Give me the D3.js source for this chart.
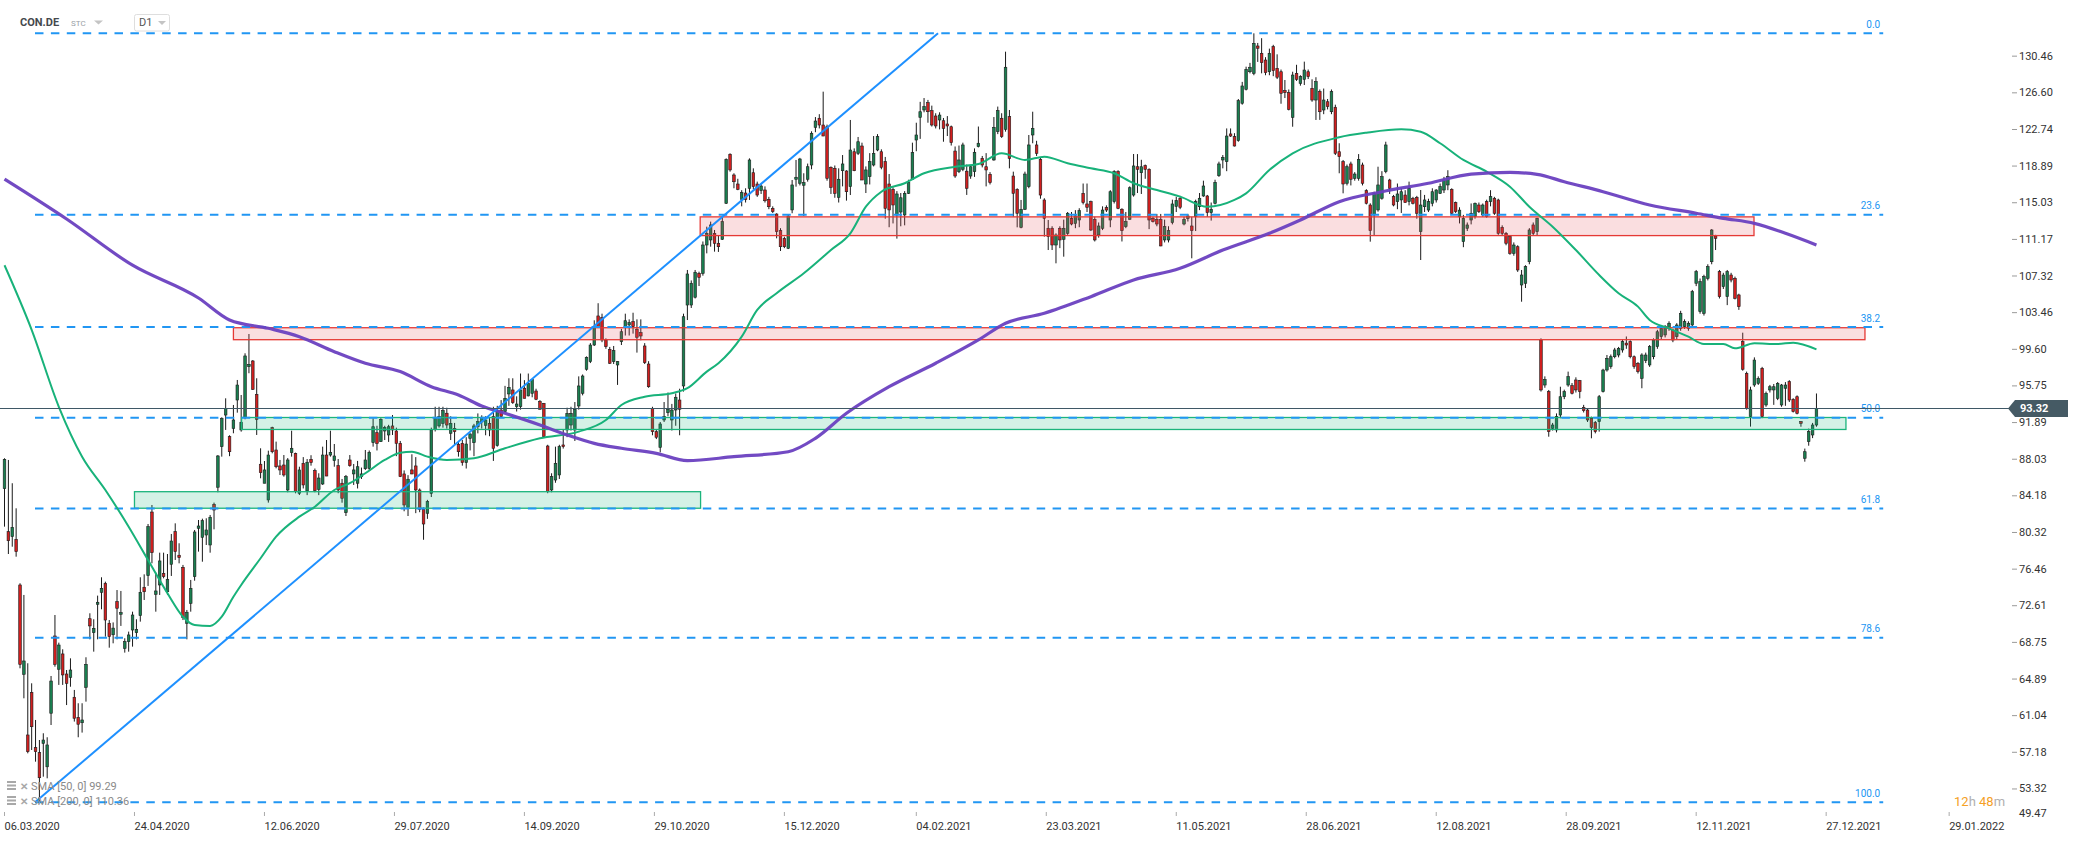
<!DOCTYPE html>
<html><head><meta charset="utf-8">
<script src="https://cdn.jsdelivr.net/npm/d3@7"></script>
<style>
html,body{margin:0;padding:0;background:#fff;overflow:hidden;}
svg{display:block;font-family:Roboto,"Noto Sans",Arial,sans-serif;}
</style></head><body>
<svg id="chart" width="2079" height="844"></svg>
<script>
// ---------- DATA ----------
// daily candles [open, high, low, close], one per trading day from 06.03.2020
const ohlc = [
[84.88,88.08,80.88,87.97],[80.35,87.9,78.0,79.4],[79.83,85.45,78.77,80.81],[79.55,82.81,77.72,78.25],[74.74,74.92,65.97,66.39],
[65.34,73.69,62.81,66.74],[58.95,66.5,57.02,57.19],[63.44,64.39,57.37,59.82],[57.62,60.53,56.14,57.19],[57.09,58.42,51.76,54.45],
[58.07,59.13,54.56,58.42],[55.6,58.71,54.39,57.9],[61.24,65.16,60.0,64.63],[69.37,71.58,66.14,66.39],[65.87,68.67,64.22,68.42],
[67.48,67.97,64.22,65.27],[65.37,65.79,62.1,64.39],[65.02,67.02,64.03,65.79],[62.92,63.69,60.36,60.71],[60.81,62.29,58.71,60.08],
[60.24,62.29,59.2,60.53],[63.97,67.13,62.46,66.39],[71.19,71.76,69.02,70.43],[69.72,71.13,67.72,70.18],[72.71,73.62,69.02,72.92],
[73.97,75.55,72.18,74.39],[74.92,75.09,69.3,71.05],[70.71,71.05,68.14,69.3],[69.5,70.8,68.6,70.2],[72.99,74.21,69.02,72.29],
[71.66,74.11,70.43,71.83],[68.07,69.13,67.62,68.77],[68.77,69.83,67.72,69.48],[70.0,71.93,68.25,71.58],[69.72,71.13,69.02,70.07],
[71.51,75.55,70.88,73.97],[74.5,75.86,73.16,74.03],[75.72,81.16,74.64,80.88],[82.42,83.16,77.02,78.14],[73.76,76.04,71.93,74.11],
[74.74,78.14,73.69,77.27],[75.97,78.14,75.44,75.62],[74.03,78.0,73.69,75.34],[76.92,80.11,75.69,79.37],[80.35,81.23,77.37,78.25],
[77.87,79.13,77.02,77.62],[76.6,76.85,71.05,71.34],[70.71,72.11,69.02,71.87],[72.81,75.27,71.93,74.39],[75.62,80.53,75.19,80.32],
[80.71,81.58,78.25,80.95],[79.76,81.72,77.19,81.51],[80.0,81.76,78.95,80.53],[78.95,82.11,78.14,81.87],[83.23,83.41,80.6,82.63],
[85.03,88.42,84.5,88.32],[89.3,92.39,88.25,92.29],[92.63,94.39,91.06,93.34],[90.35,90.5,88.3,88.77],[91.23,93.69,90.71,92.11],
[94.21,96.32,92.88,95.79],[91.06,94.74,90.88,91.87],[92.35,99.13,92.18,98.85],[97.72,101.16,97.03,97.97],[98.32,98.42,95.27,95.34],
[94.81,96.5,90.53,92.18],[87.45,89.13,85.97,86.56],[85.45,87.79,85.45,86.85],[83.69,88.88,83.41,88.42],[91.3,91.4,88.6,88.77],
[88.95,89.83,87.02,87.19],[87.27,87.9,86.32,86.85],[87.37,88.42,86.14,86.32],[84.74,88.1,84.5,87.9],[88.67,90.98,88.25,89.13],
[88.6,88.67,84.39,84.56],[84.39,87.19,84.21,86.85],[87.55,88.2,84.9,85.27],[84.64,88.0,84.2,87.66],[87.97,88.4,87.3,87.62],
[86.78,87.0,84.5,84.67],[84.8,86.5,84.2,86.0],[85.37,89.3,85.27,88.42],[88.42,90.0,86.2,86.21],[88.42,90.98,88.25,88.7],
[87.83,89.58,87.19,88.32],[87.3,88.0,84.4,84.74],[85.45,85.9,83.4,83.87],[82.35,86.32,82.0,86.14],[87.9,88.42,87.19,87.3],
[86.43,87.48,85.27,86.85],[85.45,87.8,84.9,87.19],[86.14,87.1,85.9,86.43],[86.98,88.95,86.85,87.9],[87.02,88.9,86.8,88.71],
[89.72,92.29,89.3,91.4],[90.77,91.5,88.9,89.65],[89.83,92.3,89.8,92.18],[90.95,91.5,90.0,91.3],[90.53,91.6,89.8,91.4],
[91.48,92.63,90.53,91.06],[90.95,91.3,88.3,89.65],[89.65,89.9,86.1,86.14],[86.43,86.8,82.5,83.16],[82.92,86.3,82.0,85.87],
[86.85,88.5,86.4,86.43],[87.27,88.2,82.3,84.74],[84.74,84.9,82.4,82.71],[82.71,82.9,79.5,81.16],[82.29,83.7,81.7,83.51],
[84.39,91.3,84.0,91.06],[91.13,93.5,90.9,92.29],[91.48,93.5,91.3,92.46],[91.76,93.5,91.3,93.09],[92.82,93.4,91.2,91.58],
[90.71,92.5,90.0,91.76],[91.23,91.8,89.5,90.88],[89.55,89.83,88.25,88.77],[89.65,90.0,87.3,87.62],[87.62,90.3,87.0,89.58],
[90.18,90.7,88.9,90.64],[89.72,91.7,88.3,91.48],[91.4,92.8,90.7,91.93],[91.9,92.6,91.2,92.3],[91.55,92.5,90.5,92.11],
[91.76,92.3,90.4,91.06],[92.46,93.5,87.8,89.13],[89.41,93.6,89.3,93.09],[93.16,94.2,92.4,92.46],[92.99,95.7,92.9,94.39],
[94.85,96.5,93.6,95.55],[95.27,96.5,93.8,93.93],[93.51,94.6,93.0,93.79],[93.51,97.0,93.2,95.27],[95.45,96.3,94.6,94.39],
[94.64,97.0,94.6,95.97],[94.92,96.4,94.5,96.39],[95.16,95.4,94.2,94.29],[94.04,94.2,93.2,93.24],[93.86,93.9,90.35,90.35],
[89.37,89.5,84.4,84.56],[84.74,86.5,84.5,86.14],[85.79,89.3,85.5,87.55],[86.32,89.5,85.9,89.3],[89.48,91.06,89.1,89.3],
[91.06,93.4,90.3,92.81],[91.58,93.5,91.0,92.81],[91.06,94.0,89.9,93.24],[93.58,96.7,93.2,95.69],[94.92,96.9,94.7,96.74],
[97.45,98.8,97.3,98.71],[98.25,100.2,98.1,100.0],[100.0,102.6,99.9,101.93],[103.06,104.4,101.8,101.93],[102.92,103.3,100.3,100.53],
[100.53,100.7,99.6,99.83],[99.55,99.8,98.0,98.08],[98.25,99.9,98.0,99.41],[97.9,98.3,95.8,98.25],[100.35,101.7,100.0,101.4],
[101.93,103.3,101.0,102.56],[102.11,102.7,101.0,102.35],[102.46,103.4,101.2,101.93],[101.66,102.7,99.2,100.82],[101.3,102.7,100.5,100.95],
[99.9,100.2,98.0,98.14],[98.0,98.3,95.5,95.61],[93.34,93.5,90.5,90.88],[90.88,91.1,90.1,90.29],[89.23,91.9,88.7,91.69],
[92.11,94.0,91.9,92.46],[92.88,95.0,92.5,93.24],[92.11,93.8,91.0,93.16],[93.16,94.9,91.5,94.5],[94.21,95.4,90.5,93.24],
[95.69,103.3,95.1,102.98],[104.21,107.9,102.63,107.48],[104.21,106.8,103.9,106.5],[105.03,107.9,104.9,107.66],[107.55,107.72,106.21,107.13],
[107.55,110.9,107.3,110.53],[110.53,112.46,109.65,111.76],[111.06,112.99,110.35,112.64],[111.76,112.11,109.83,110.71],[110.71,111.5,109.8,110.35],
[111.13,113.51,111.06,112.99],[114.92,119.65,114.85,119.55],[120.08,120.18,118.25,118.43],[117.9,118.08,116.5,117.19],[116.95,117.5,116.3,116.39],
[115.34,116.3,114.6,116.04],[116.0,116.5,115.0,115.3],[116.5,119.65,115.27,119.48],[118.14,118.6,116.4,116.67],[116.95,117.2,115.6,115.79],
[116.25,117.0,115.9,116.74],[116.32,116.7,115.0,115.19],[115.34,115.6,114.3,114.56],[114.39,114.6,113.9,114.04],[113.79,113.87,111.23,111.93],
[112.04,112.3,109.9,110.35],[111.23,111.4,110.2,110.35],[110.18,113.7,110.1,113.58],[114.22,117.37,113.87,116.85],[117.45,119.48,116.67,117.66],
[117.03,119.7,116.8,119.58],[116.82,118.08,113.58,117.09],[117.45,119.1,117.2,118.77],[118.95,122.5,118.5,122.29],[122.92,124.0,122.4,123.58],
[123.87,124.3,122.8,123.16],[123.16,126.67,122.0,122.0],[122.98,123.2,117.3,117.55],[118.71,118.8,115.9,116.6],[118.6,118.9,115.5,115.97],
[115.55,118.6,115.0,117.45],[118.35,120.0,116.7,119.06],[118.32,118.4,115.2,116.14],[116.67,123.69,115.79,120.53],[120.35,120.7,118.3,118.35],
[120.18,121.9,120.0,121.4],[120.95,121.3,117.4,117.37],[116.95,118.8,116.0,118.43],[117.72,120.2,116.9,119.3],[118.95,122.0,118.8,120.18],
[120.53,122.2,120.4,121.93],[120.35,120.6,118.5,118.71],[119.3,119.8,113.3,114.39],[116.95,118.0,112.4,114.22],[116.39,116.6,112.8,114.74],
[113.69,116.2,111.2,115.9],[114.0,116.0,112.5,115.5],[113.69,116.2,112.6,115.97],[115.97,117.4,115.9,117.09],[117.45,121.3,117.4,120.25],
[121.58,123.4,120.4,122.11],[123.97,125.6,121.7,124.56],[124.74,126.0,124.5,125.09],[125.51,125.8,123.4,124.56],[124.67,125.2,123.0,123.16],
[124.11,124.4,122.8,123.06],[123.69,124.5,122.7,124.21],[123.61,123.9,121.4,122.81],[123.27,124.1,122.0,123.06],[122.98,123.1,121.0,121.3],
[120.42,120.9,117.6,117.79],[118.25,121.0,118.1,119.48],[118.5,121.3,118.3,121.06],[118.3,119.0,115.8,116.5],[117.79,118.9,117.5,118.77],
[118.25,120.7,117.7,120.29],[120.88,123.0,120.8,121.24],[119.65,119.9,118.7,118.95],[118.77,120.2,116.7,118.43],[117.97,118.2,116.9,117.09],
[119.48,124.0,119.4,122.92],[122.46,125.1,122.2,124.67],[123.87,124.4,121.8,121.93],[122.71,130.88,122.46,129.24],[124.04,124.74,118.6,119.65],
[117.79,118.25,113.51,115.97],[116.39,116.5,112.39,113.87],[112.39,115.27,112.29,114.29],[114.29,118.25,114.21,118.0],[116.67,122.11,116.5,121.06],
[122.11,124.56,121.24,122.81],[121.06,121.5,119.9,120.18],[119.55,119.7,115.4,115.79],[115.27,115.45,111.41,113.34],[112.29,113.16,110.0,111.41],
[112.29,112.5,110.0,110.53],[110.53,111.76,108.6,111.58],[112.29,112.5,110.2,111.06],[111.13,113.2,109.3,112.29],[111.76,114.0,111.6,113.87],
[113.34,114.0,112.6,112.74],[112.8,114.2,112.3,113.6],[113.16,114.4,112.4,114.14],[115.97,117.0,114.8,114.99],[114.85,117.0,114.0,114.5],
[115.09,115.2,112.0,112.11],[113.23,113.5,110.9,111.06],[111.58,112.9,111.3,112.53],[112.29,114.6,112.1,114.21],[114.46,114.7,114.0,114.21],
[113.16,116.3,112.4,116.14],[115.09,118.4,114.9,118.25],[118.25,118.4,114.3,114.39],[114.29,114.4,110.9,112.04],[112.46,114.0,112.3,112.99],
[113.23,116.7,113.2,116.56],[115.79,120.11,115.62,118.85],[118.77,120.1,116.0,118.5],[118.14,119.5,115.9,118.77],[118.88,119.0,117.5,118.5],
[118.5,118.6,112.2,113.16],[113.34,113.5,112.9,112.99],[113.23,113.8,112.5,112.74],[113.23,113.8,110.4,110.43],[111.06,113.2,110.8,112.46],
[111.06,112.5,110.8,112.04],[112.88,115.3,112.7,114.85],[114.6,115.6,114.0,115.2],[115.45,115.7,114.3,114.5],[112.74,113.5,112.6,113.23],
[113.34,113.8,113.0,113.58],[112.53,113.5,109.13,112.04],[113.51,115.3,112.0,115.09],[114.56,116.0,114.2,115.45],[115.69,117.3,115.6,116.74],
[115.69,115.8,113.5,113.93],[113.93,115.0,113.1,114.29],[114.92,117.4,114.8,117.13],[117.83,119.3,117.7,119.06],[119.48,120.0,118.6,119.76],
[119.3,122.8,118.3,122.0],[122.22,122.8,121.9,122.0],[121.93,122.3,120.9,120.95],[121.51,125.9,121.4,125.72],[125.45,127.7,125.3,127.27],
[126.92,129.3,126.8,129.02],[128.77,129.7,128.6,129.24],[128.6,132.81,128.4,131.76],[131.48,131.8,129.8,131.24],[130.71,132.3,128.6,129.72],
[130.0,130.3,128.4,128.67],[128.77,131.2,128.4,130.71],[131.41,131.6,128.3,128.88],[129.13,130.6,128.0,128.19],[128.77,129.0,125.4,126.5],
[126.78,127.9,126.0,126.57],[126.57,126.9,124.7,124.81],[123.97,128.77,122.98,128.42],[128.6,129.5,127.8,127.97],[127.55,128.4,127.3,128.25],
[127.97,129.83,127.37,128.95],[128.77,129.0,128.0,128.25],[127.02,127.97,125.61,125.79],[125.79,128.19,123.69,127.72],[126.67,126.9,123.7,124.56],
[124.74,127.0,124.3,125.79],[125.61,125.9,124.8,125.09],[124.56,126.9,124.3,126.67],[125.03,125.3,120.0,120.18],[120.35,121.24,118.08,119.83],
[119.3,119.48,115.97,116.95],[117.03,119.0,116.8,118.77],[119.06,119.3,116.8,117.45],[117.55,118.2,117.3,118.0],[117.55,120.1,117.3,119.55],
[118.95,119.2,116.8,117.03],[116.25,116.4,114.8,114.92],[114.74,114.92,110.88,112.04],[113.69,116.14,111.58,115.97],[114.22,118.77,114.04,116.85],
[115.45,118.3,115.3,117.72],[118.25,121.4,118.08,121.06],[117.37,117.5,115.9,116.5],[115.62,115.8,114.6,114.74],[115.09,117.0,114.3,115.9],
[115.27,116.5,113.9,116.14],[115.79,116.3,115.0,114.99],[115.09,117.2,114.7,116.5],[115.45,115.6,114.8,114.92],[115.55,115.7,113.3,113.87],
[111.93,116.32,108.95,114.74],[114.56,115.8,114.0,115.27],[114.21,115.4,114.0,115.09],[114.92,116.5,114.6,116.14],[115.27,116.4,115.0,116.32],
[115.97,117.0,115.9,116.67],[116.32,117.7,116.0,117.37],[116.85,118.4,116.3,117.72],[116.39,116.5,113.7,113.87],[114.99,115.1,113.9,114.04],
[113.5,114.5,112.8,114.2],[110.88,113.7,110.3,113.34],[112.29,112.9,112.0,112.64],[113.16,114.9,112.7,113.87],[113.51,115.0,113.3,114.92],
[114.74,115.0,113.9,114.04],[113.69,114.9,113.5,114.74],[115.09,115.3,113.4,113.51],[115.09,116.3,114.6,115.62],[115.45,115.6,113.7,113.87],
[115.27,115.4,111.6,111.76],[112.39,112.6,111.5,111.76],[111.76,111.9,110.5,110.71],[111.41,111.5,109.5,109.65],[109.65,110.8,109.4,110.53],
[110.35,110.5,107.7,107.9],[106.32,107.9,104.56,107.37],[106.5,108.4,106.0,108.25],[108.77,112.3,108.5,112.11],[112.64,112.9,111.5,111.76],
[111.93,113.4,111.5,113.34],[100.53,100.7,95.1,95.27],[95.79,96.7,95.5,96.39],[95.09,95.27,90.35,90.88],[91.23,91.8,91.0,91.58],
[91.06,92.8,90.8,92.46],[92.63,95.61,92.29,94.56],[94.56,95.3,94.3,95.09],[95.79,97.2,95.61,96.67],[95.72,96.0,94.8,94.92],
[96.32,96.6,95.0,95.27],[96.25,96.32,94.39,95.09],[93.44,93.7,92.9,93.09],[93.16,93.3,91.9,92.11],[92.29,92.46,90.18,91.34],
[91.83,92.0,90.7,90.88],[91.93,94.74,90.88,94.56],[95.09,97.5,95.0,97.37],[97.37,98.95,97.2,98.6],[97.72,99.0,97.5,98.77],
[98.77,99.7,98.6,99.48],[98.95,99.8,98.7,99.65],[99.48,100.6,99.2,100.35],[100.2,100.9,99.6,100.0],[100.35,100.5,98.6,98.77],
[98.77,98.9,97.5,97.72],[98.08,98.2,97.0,97.2],[96.49,99.13,95.45,98.95],[98.35,99.2,98.1,98.95],[97.9,100.0,97.7,99.83],
[98.77,100.7,98.5,100.53],[99.83,101.6,99.6,101.4],[100.88,101.9,100.6,101.76],[101.06,102.1,100.8,101.93],[101.76,102.5,101.5,102.29],
[101.58,101.7,100.3,100.53],[100.88,102.3,100.6,102.11],[101.76,103.6,101.5,103.34],[101.93,102.7,101.7,102.46],[101.76,102.5,101.5,102.29],
[102.11,105.8,101.9,105.62],[106.5,107.9,106.2,107.72],[103.51,107.0,103.3,106.67],[103.34,107.4,103.1,107.2],[107.02,108.5,106.8,108.25],
[108.77,112.2,108.5,112.11],[111.48,111.6,110.0,111.23],[107.72,107.9,104.9,105.09],[106.14,107.6,105.9,107.37],[105.09,107.9,104.2,107.72],
[107.37,107.6,106.6,106.84],[107.02,107.2,104.8,104.92],[105.27,105.4,103.7,104.04],[100.35,101.3,97.3,97.45],[97.02,97.2,93.2,93.34],
[92.46,95.61,91.41,95.27],[95.79,98.7,95.6,98.42],[95.97,96.7,95.8,96.49],[97.55,97.7,92.3,92.46],[93.69,95.1,93.5,94.92],
[95.27,95.8,95.0,95.61],[95.27,95.9,93.7,95.61],[94.39,96.1,94.2,95.97],[93.69,95.9,93.5,95.79],[95.45,96.1,93.6,95.79],
[96.14,96.3,94.0,94.21],[94.29,94.4,92.9,92.99],[94.56,94.7,92.7,92.81],[91.93,92.0,91.4,91.76],[88.08,89.1,87.72,88.77],
[89.83,91.2,89.4,90.88],[90.53,91.8,90.2,91.58],[91.58,94.9,91.4,93.32]
];

// SMA 50: [bar index, value]
const sma50 = [[0,108.4],[7,101.6],[14,93.5],[20,88.25],[26,84.74],[32,80.88],[37,77.37],[42,73.87],[46,71.4],[49,70.53],
[53,70.43],[56,71.4],[59,73.5],[61,74.74],[66,77.55],[70,79.83],[76,81.93],[80,82.98],[85,84.74],[89,85.45],[93,86.5],
[98,87.9],[102,88.67],[105,88.77],[109,88.25],[114,87.9],[121,88.08],[129,89.13],[138,90.18],[148,90.88],[155,92.11],
[159,93.69],[165,94.56],[172,94.92],[176,95.45],[181,97.2],[184,98.08],[190,100.88],[194,103.69],[199,105.45],[206,107.55],
[213,110.0],[218,111.76],[222,114.56],[226,116.14],[232,117.03],[237,118.08],[245,118.77],[251,119.06],[257,120.18],[263,119.48],
[268,119.83],[274,119.13],[280,118.6],[286,118.08],[291,117.03],[297,116.32],[303,115.62],[310,114.56],[317,115.27],[320,115.97],
[326,118.43],[332,120.18],[344,121.87],[351,122.35],[360,122.71],[365,122.46],[370,121.24],[376,119.48],[382,118.25],[388,116.67],
[393,114.56],[399,112.46],[405,110.0],[411,107.37],[416,105.45],[421,104.04],[424,102.64],[429,101.76],[434,100.88],[438,100.11],
[443,100.11],[446,99.65],[451,100.18],[457,100.11],[461,100.25],[467,99.55]];

// SMA 200: [bar index, value]
const sma200 = [[0,117.47],[16,113.27],[33,108.4],[50,104.95],[58,102.64],[68,101.76],[76,100.88],[85,99.3],[93,98.08],[102,97.2],
[110,95.61],[117,94.74],[123,93.58],[129,92.81],[138,91.58],[145,90.53],[152,89.65],[159,89.13],[168,88.6],[176,87.83],[188,88.25],
[202,88.77],[209,90.18],[217,92.81],[228,95.61],[240,98.08],[251,100.53],[258,102.29],[268,103.34],[280,105.09],[291,106.85],
[303,108.08],[314,110.0],[326,111.76],[334,113.16],[344,115.09],[355,116.14],[367,117.03],[378,118.0],[388,118.18],[395,117.97],
[402,117.19],[412,116.14],[424,114.74],[436,113.87],[443,113.34],[451,112.81],[459,111.76],[467,110.53]];

const yTicks = [130.46,126.60,122.74,118.89,115.03,111.17,107.32,103.46,99.60,95.75,91.89,88.03,84.18,80.32,76.46,72.61,68.75,64.89,61.04,57.18,53.32,49.47];
const dateLabels = ["06.03.2020","24.04.2020","12.06.2020","29.07.2020","14.09.2020","29.10.2020","15.12.2020","04.02.2021","23.03.2021","11.05.2021","28.06.2021","12.08.2021","28.09.2021","12.11.2021","27.12.2021","29.01.2022"];
const dateIndex = [0,33.5,67,100.5,134,167.5,201,235,268.5,302,335.5,369,402.5,436,469.5,501.2];

const fibLevels = [0,23.6,38.2,50,61.8,78.6,100];
const fibHigh = 132.83, fibLow = 51.86;
const fibRange = [7.86,484.2];

// zones: start index, end index, top price, bottom price, type
const zoneStart = [179.3,59.0,61.1,33.5];
const zoneEnd   = [450.9,479.5,474.6,179.4];
const zoneTop   = [113.49,101.82,92.37,84.56];
const zoneBot   = [111.52,100.56,91.11,82.82];
const zoneType  = ["red","red","green","green"];

const trendFrom = [7.86,51.86], trendTo = [240.6,132.83];
const lastPrice = 93.32;
const legendText = ["SMA [50, 0] 99.29","SMA [200, 0] 110.36"];

// ---------- DRAW ----------
const svg = d3.select("#chart");
const x = d3.scaleLinear().domain([0,100]).range([4.5,392.5]);
const y = d3.scaleLinear().domain([50.0,136.32]).range([820,0]);

const plot = svg.append("g");

// candles
const bw = 2.6;
const cg = plot.append("g");
ohlc.forEach((d,i)=>{
  const [o,h0,l0,c] = d;
  const h = Math.max(h0,o,c), l = Math.min(l0,o,c);
  const cx = x(i);
  cg.append("line").attr("x1",cx).attr("x2",cx).attr("y1",y(h)).attr("y2",y(l))
    .attr("stroke","#1a1a1a").attr("stroke-width",1);
  const top = y(Math.max(o,c)), bot = y(Math.min(o,c));
  cg.append("rect").attr("x",cx-bw/2).attr("y",top).attr("width",bw)
    .attr("height",Math.max(1,bot-top))
    .attr("fill", c>=o ? "#1a7f50" : "#d11f1f")
    .attr("stroke","#1a1a1a").attr("stroke-width",0.6);
});

// zones (semi-transparent over candles)
zoneStart.forEach((s,k)=>{
  const red = zoneType[k]==="red";
  plot.append("rect")
    .attr("x",x(s)).attr("y",y(zoneTop[k]))
    .attr("width",x(zoneEnd[k])-x(s)).attr("height",y(zoneBot[k])-y(zoneTop[k]))
    .attr("fill", red ? "rgba(232,90,100,0.2)" : "rgba(40,185,130,0.2)")
    .attr("stroke", red ? "#e53935" : "#1cb47c").attr("stroke-width",1.3);
});

// fib lines
fibLevels.forEach(f=>{
  const v = fibHigh - (fibHigh-fibLow)*f/100;
  plot.append("line").attr("x1",x(fibRange[0])).attr("x2",x(fibRange[1]))
    .attr("y1",y(v)).attr("y2",y(v))
    .attr("stroke","#2196f3").attr("stroke-width",2).attr("stroke-dasharray","8.5 7.4");
  plot.append("text").attr("x",x(fibRange[1])-3).attr("y",y(v)-8)
    .attr("text-anchor","end").attr("dominant-baseline","middle")
    .attr("font-size",10).attr("fill","#2196f3").text(f.toFixed(1));
});

// SMA lines
const line = d3.line().x(d=>x(d[0])).y(d=>y(d[1])).curve(d3.curveMonotoneX);
plot.append("path").attr("d",line(sma50)).attr("fill","none").attr("stroke","#18b27a").attr("stroke-width",2);
plot.append("path").attr("d",line(sma200)).attr("fill","none").attr("stroke","#6a40c0").attr("stroke-width",3.2).attr("stroke-opacity",0.95);

// trend line
plot.append("line").attr("x1",x(trendFrom[0])).attr("y1",y(trendFrom[1]))
  .attr("x2",x(trendTo[0])).attr("y2",y(trendTo[1]))
  .attr("stroke","#1e90ff").attr("stroke-width",2);

// last price line
plot.append("line").attr("x1",0).attr("x2",2009).attr("y1",y(lastPrice)).attr("y2",y(lastPrice))
  .attr("stroke","#3f5866").attr("stroke-width",1.2);

// y axis
const yAxis = d3.axisRight(y).tickValues(yTicks).tickSize(5).tickPadding(2).tickFormat(d3.format(".2f"));
const ya = svg.append("g").attr("transform","translate(2012,0)").call(yAxis);
ya.select(".domain").remove();
ya.selectAll(".tick line").attr("stroke","#9a9a9a");
ya.selectAll(".tick text").attr("font-size",11).attr("fill","#333").attr("font-family","Roboto, sans-serif");
ya.selectAll(".tick").filter(d=>y(d)>816).each(function(){
  d3.select(this).attr("transform","translate(0,813)");
  d3.select(this).select("line").remove();
});

// last price label
const py = y(lastPrice);
svg.append("path").attr("d",`M2008,${py} L2015,${py-8.5} L2068,${py-8.5} L2068,${py+8.5} L2015,${py+8.5} Z`).attr("fill","#455a64");
svg.append("text").attr("x",2020).attr("y",py).attr("dominant-baseline","central")
  .attr("font-size",11).attr("font-weight","bold").attr("fill","#fff").text(lastPrice.toFixed(2));

// x axis labels
const xa = svg.append("g");
dateLabels.forEach((lab,k)=>{
  const xx = x(dateIndex[k]);
  xa.append("line").attr("x1",xx).attr("x2",xx).attr("y1",812).attr("y2",816).attr("stroke","#aaa");
  xa.append("text").attr("x",xx).attr("y",827).attr("dominant-baseline","middle")
    .attr("font-size",11).attr("fill","#333").text(lab);
});

// header
svg.append("text").attr("x",20).attr("y",23).attr("dominant-baseline","middle")
  .attr("font-size",11).attr("font-weight","bold").attr("fill","#45494d").text("CON.DE");
svg.append("text").attr("x",71).attr("y",23.5).attr("dominant-baseline","middle")
  .attr("font-size",8).attr("fill","#9aa0a6").text("STC");
svg.append("path").attr("d","M94,20.5 L103,20.5 L98.5,24.5 Z").attr("fill","#c4c4c4");
svg.append("rect").attr("x",134.5).attr("y",14.5).attr("width",35).attr("height",16.5).attr("rx",2)
  .attr("fill","#fff").attr("stroke","#dedede");
svg.append("text").attr("x",139).attr("y",23).attr("dominant-baseline","middle")
  .attr("font-size",11).attr("fill","#555").text("D1");
svg.append("path").attr("d","M158,21 L166,21 L162,25 Z").attr("fill","#c4c4c4");

// legend
legendText.forEach((t,k)=>{
  const ly = 786 + k*15;
  const lg = svg.append("g").attr("fill","#a8a8a8");
  lg.append("rect").attr("x",7).attr("y",ly-5).attr("width",9).attr("height",2);
  lg.append("rect").attr("x",7).attr("y",ly-1.5).attr("width",9).attr("height",2);
  lg.append("rect").attr("x",7).attr("y",ly+2).attr("width",9).attr("height",2);
  svg.append("text").attr("x",20).attr("y",ly).attr("dominant-baseline","central")
    .attr("font-size",10).attr("font-weight","bold").attr("fill","#a8a8a8").text("✕");
  svg.append("text").attr("x",31).attr("y",ly).attr("dominant-baseline","central")
    .attr("font-size",11).attr("fill","#8a8a8a").text(t);
});

// countdown
const cd = svg.append("text").attr("x",1954).attr("y",801).attr("dominant-baseline","central").attr("font-size",13);
cd.append("tspan").attr("fill","#f5a024").text("12");
cd.append("tspan").attr("fill","#b0b0b0").text("h ");
cd.append("tspan").attr("fill","#f5a024").text("48");
cd.append("tspan").attr("fill","#b0b0b0").text("m");
</script>
</body></html>
